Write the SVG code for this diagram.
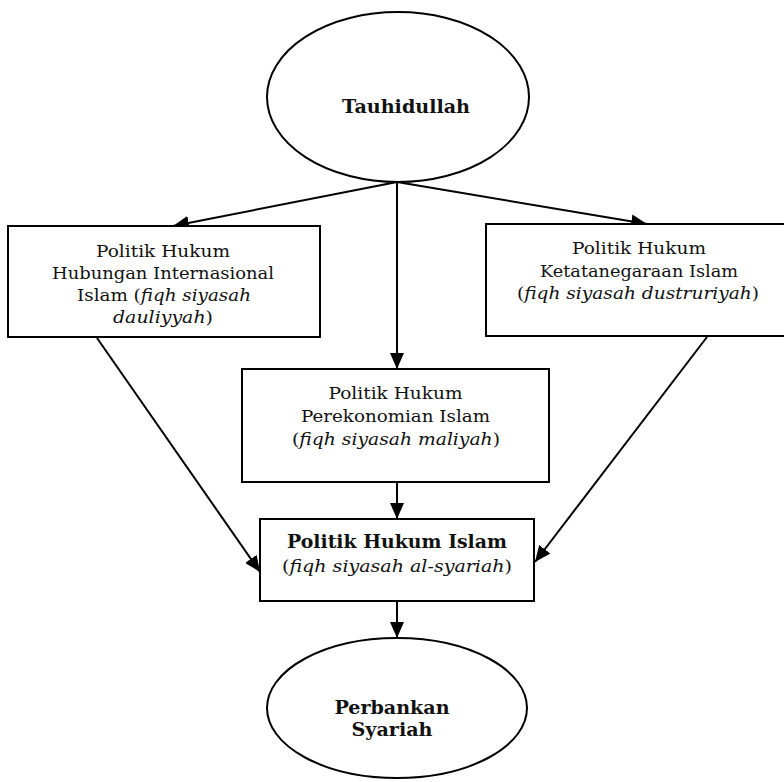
<svg xmlns="http://www.w3.org/2000/svg" width="784" height="782" viewBox="0 0 784 782">
  <style>
    .shape { fill: #ffffff; stroke: #000000; stroke-width: 2; }
    .edge { fill: none; stroke: #000000; stroke-width: 2; marker-end: url(#head); }
    text { font-family: "DejaVu Serif", "Liberation Serif", serif; font-size: 17.5px; fill: #111111; text-anchor: middle; }
    .b { font-weight: bold; font-size: 18px; }
    .i { font-style: italic; }
  </style>
  <defs>
    <marker id="head" markerWidth="16" markerHeight="14" refX="16" refY="7" orient="auto" markerUnits="userSpaceOnUse">
      <path d="M0,0 L16,7 L0,14 Z" fill="#000000"/>
    </marker>
  </defs>

  <g id="connectors">
    <line class="edge" x1="397" y1="182" x2="173" y2="226"/>
    <line class="edge" x1="397" y1="182" x2="397" y2="369"/>
    <line class="edge" x1="397" y1="182" x2="647" y2="224"/>
    <line class="edge" x1="397" y1="482" x2="397" y2="519"/>
    <line class="edge" x1="97" y1="338" x2="260" y2="572"/>
    <line class="edge" x1="707" y1="337" x2="535" y2="562"/>
    <line class="edge" x1="397" y1="601" x2="397" y2="638"/>
  </g>

  <g id="tauhidullah">
    <ellipse class="shape" cx="398" cy="97" rx="131" ry="85"/>
    <text class="b" x="406" y="113" textLength="128" lengthAdjust="spacingAndGlyphs">Tauhidullah</text>
  </g>

  <g id="hubungan-internasional">
    <rect class="shape" x="8" y="226" width="312" height="111"/>
    <text x="163" y="257" textLength="134" lengthAdjust="spacingAndGlyphs">Politik Hukum</text>
    <text x="163" y="279" textLength="222" lengthAdjust="spacingAndGlyphs">Hubungan Internasional</text>
    <text x="164" y="301" textLength="174" lengthAdjust="spacingAndGlyphs">Islam (<tspan class="i">fiqh siyasah</tspan></text>
    <text class="i" x="163" y="323" textLength="100" lengthAdjust="spacingAndGlyphs">dauliyyah<tspan font-style="normal">)</tspan></text>
  </g>

  <g id="ketatanegaraan">
    <rect class="shape" x="486" y="224" width="306" height="112"/>
    <text x="639" y="254" textLength="134" lengthAdjust="spacingAndGlyphs">Politik Hukum</text>
    <text x="639" y="277" textLength="198" lengthAdjust="spacingAndGlyphs">Ketatanegaraan Islam</text>
    <text x="638" y="299" textLength="242" lengthAdjust="spacingAndGlyphs">(<tspan class="i">fiqh siyasah dustruriyah</tspan>)</text>
  </g>

  <g id="perekonomian">
    <rect class="shape" x="242" y="369" width="307" height="113"/>
    <text x="395.5" y="399" textLength="134" lengthAdjust="spacingAndGlyphs">Politik Hukum</text>
    <text x="395.5" y="422" textLength="189" lengthAdjust="spacingAndGlyphs">Perekonomian Islam</text>
    <text x="396" y="445" textLength="208" lengthAdjust="spacingAndGlyphs">(<tspan class="i">fiqh siyasah maliyah</tspan>)</text>
  </g>

  <g id="politik-hukum-islam">
    <rect class="shape" x="260" y="519" width="274" height="82"/>
    <text class="b" x="397" y="548" textLength="220" lengthAdjust="spacingAndGlyphs">Politik Hukum Islam</text>
    <text x="397" y="572" textLength="230" lengthAdjust="spacingAndGlyphs">(<tspan class="i">fiqh siyasah al-syariah</tspan>)</text>
  </g>

  <g id="perbankan-syariah">
    <ellipse class="shape" cx="397" cy="708" rx="130" ry="70"/>
    <text class="b" x="392" y="714" textLength="115" lengthAdjust="spacingAndGlyphs">Perbankan</text>
    <text class="b" x="392" y="736" textLength="81" lengthAdjust="spacingAndGlyphs">Syariah</text>
  </g>
</svg>
